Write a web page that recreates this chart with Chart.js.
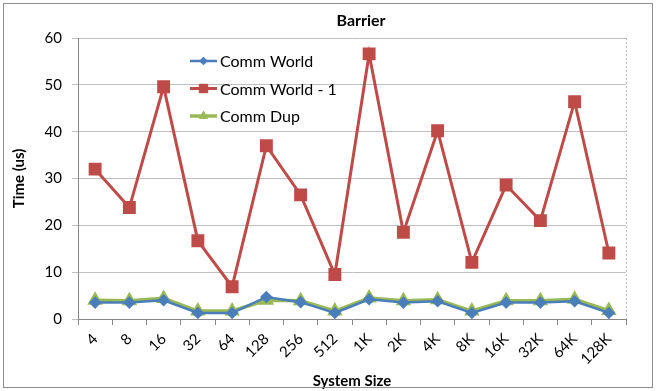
<!DOCTYPE html>
<html><head><meta charset="utf-8">
<script src="https://cdn.jsdelivr.net/npm/chart.js@4/dist/chart.umd.min.js"></script>
<style>html,body{margin:0;padding:0;background:#fff}#w{width:656px;height:391px}</style>
</head><body><div id="w"><canvas id="c" width="656" height="391"></canvas></div>
<script>
const categories = ["4","8","16","32","64","128","256","512","1K","2K","4K","8K","16K","32K","64K","128K"];
const commWorld = [3.5,3.5,4.0,1.3,1.3,4.7,3.6,1.3,4.2,3.5,3.8,1.3,3.5,3.5,3.8,1.3];
const commWorldMinus1 = [32.0,23.8,49.6,16.7,6.9,37.0,26.5,9.5,56.6,18.5,40.2,12.1,28.6,21.0,46.4,14.1];
const commDup = [4.0,3.9,4.4,1.7,1.7,4.0,3.9,1.7,4.5,3.9,4.1,1.7,3.9,3.9,4.2,1.8];
const yTicks = [0,10,20,30,40,50,60];

const FONT = "Lato, 'Liberation Sans', sans-serif";
const BLUE = "#4a7ebb", RED = "#be4b48", GREEN = "#98b954";

const series = [
  {label:"Comm World", data:commWorld, color:BLUE, style:"rectRot", r:4.5, bw:2.5},
  {label:"Comm World - 1", data:commWorldMinus1, color:RED, style:"rect", r:7, bw:3},
  {label:"Comm Dup", data:commDup, color:GREEN, style:"triangle", r:5.5, bw:3.5}
];

const decor = {
  id:"decor",
  afterDraw(chart){
    const ctx = chart.ctx, a = chart.chartArea;
    ctx.save();
    ctx.strokeStyle = "#8c8c8c"; ctx.lineWidth = 1;
    ctx.strokeRect(3.5,3.5,649,384);
    ctx.strokeStyle = "#bfbfbf";
    ctx.setLineDash([2,2]);
    ctx.beginPath(); ctx.moveTo(Math.round(a.right)+0.5,a.top); ctx.lineTo(Math.round(a.right)+0.5,a.bottom); ctx.stroke();
    ctx.setLineDash([]);
    ctx.fillStyle = "#000"; ctx.font = "bold 16px " + FONT;
    ctx.textAlign = "center"; ctx.textBaseline = "middle";
    ctx.fillText("Barrier", 361, 21);
    ctx.font = "16px " + FONT; ctx.textAlign = "left";
    series.forEach((s,i)=>{
      const y = 61 + i*27.5;
      ctx.strokeStyle = s.color; ctx.lineWidth = s.bw;
      ctx.beginPath(); ctx.moveTo(190,y); ctx.lineTo(217,y); ctx.stroke();
      ctx.fillStyle = s.color; ctx.lineWidth = 1;
      Chart.helpers.drawPoint(ctx,{pointStyle:s.style, radius:s.r*0.85, borderWidth:1},203.5,y);
      ctx.fill();
      ctx.fillStyle = "#000";
      ctx.fillText(s.label, 220, y+1);
    });
    ctx.restore();
  }
};

new Chart(document.getElementById("c"), {
  type:"line",
  data:{
    labels:categories,
    datasets: series.map(s=>({
      label:s.label, data:s.data, borderColor:s.color, backgroundColor:s.color,
      borderWidth:s.bw, pointStyle:s.style, pointRadius:s.r, pointHoverRadius:s.r,
      pointBorderColor:s.color, pointBackgroundColor:s.color, tension:0
    }))
  },
  options:{
    responsive:false, animation:false,
    layout:{padding:{top:38,left:0,right:30,bottom:0}},
    plugins:{legend:{display:false}, title:{display:false}, tooltip:{enabled:false}},
    scales:{
      x:{
        offset:true,
        grid:{display:true, drawOnChartArea:false, offset:true, tickLength:6, color:"#868686"},
        border:{color:"#868686", width:1},
        ticks:{minRotation:45, maxRotation:45, color:"#000", font:{family:FONT, size:15}, padding:5},
        title:{display:true, text:"System Size", color:"#000", font:{family:FONT, size:15, weight:"bold"}, padding:{top:0,bottom:1}},
        afterFit(s){ s.height = 72; }
      },
      y:{
        min:0, max:60,
        afterBuildTicks(s){ s.ticks = yTicks.map(v=>({value:v})); },
        grid:{color:"#c0c0c0", tickLength:6, drawTicks:true},
        border:{color:"#868686", width:1},
        ticks:{color:"#000", font:{family:FONT, size:15}, padding:10},
        title:{display:true, text:"Time (us)", color:"#000", font:{family:FONT, size:15, weight:"bold"}, padding:{top:10,bottom:0}},
        afterFit(s){ s.width = 78; }
      }
    }
  },
  plugins:[decor]
});
</script></body></html>
